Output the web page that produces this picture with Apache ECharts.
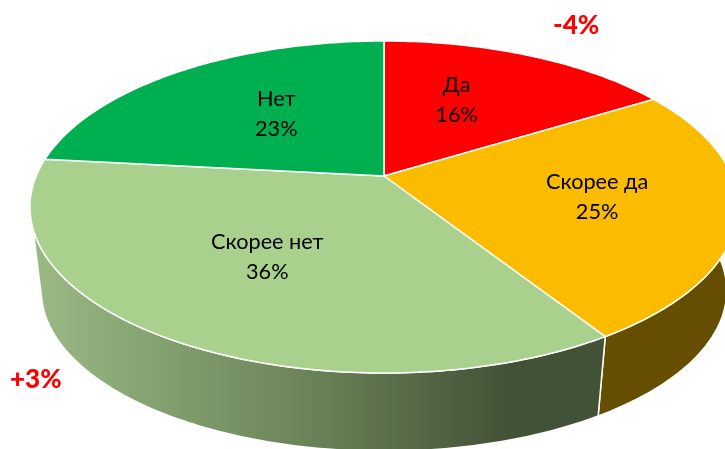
<!DOCTYPE html>
<html>
<head>
<meta charset="utf-8">
<style>html,body{margin:0;padding:0;background:#fff}#pie{width:725px;height:449px}</style>
<script src="https://cdn.jsdelivr.net/npm/echarts@6/dist/echarts.min.js"></script>
</head>
<body>
<div id="pie"></div>
<script>
// data
var names = ['Да', 'Скорее да', 'Скорее нет', 'Нет'];
var shares = [16.2, 24.8, 35.7, 23.3];
var changes = ['-4%', '+3%'];

// styles
var topColors = ['#FF0000', '#FBBC00', '#A9D08C', '#00B050'];
var sideGreen = new echarts.graphic.LinearGradient(32, 0, 600, 0, [
    {offset: 0, color: '#9ABA85'},
    {offset: 0.47, color: '#6C855A'},
    {offset: 0.84, color: '#425237'},
    {offset: 1, color: '#425237'}
], true);
var sideColors = ['#990000', '#654E00', sideGreen, '#006A30'];
// label nudges from the point at 60% of the radius
var labelNudge = [[-20, 0], [4.5, -1], [5, -9], [21, 4]];
var fontName = 'Lato, "Open Sans", sans-serif';

// perspective of the pie
var cx = 384, cy = 176, rx = 347.8, ry = 160.2, persp = 0.1867;
var depthX = 0.968, depthY = 84.6;
// part of the rim that can be seen, degrees clockwise from the top
var rimStart = 75, rimEndTop = 252, rimEndBottom = 256;

function project(deg, r, lower) {
    var a = deg * Math.PI / 180;
    var u = r * Math.sin(a), v = r * Math.cos(a);
    var w = 1 + persp * v;
    var s = lower ? depthX : 1;
    return [cx + s * rx * u / w, cy + (lower ? depthY : 0) - s * ry * v / w];
}

function arc(from, to, lower) {
    var pts = [];
    var n = Math.max(1, Math.ceil(Math.abs(to - from)));
    for (var i = 0; i <= n; i++) {
        pts.push(project(from + (to - from) * i / n, 1, lower));
    }
    return pts;
}

var total = shares.reduce(function (s, v) { return s + v; }, 0);

function renderSlice(params, api) {
    var idx = api.value(1);
    var before = 0;
    for (var i = 0; i < idx; i++) before += shares[i];
    var start = before / total * 360;
    var end = start + api.value(0) / total * 360;
    var children = [];

    // rim first, it stays under the tops
    var topEnd = Math.min(end, rimEndTop), bottomEnd = Math.min(end, rimEndBottom);
    var from = Math.max(start, rimStart);
    if (topEnd > from) {
        children.push({
            type: 'polygon',
            z2: 1,
            shape: {points: arc(from, topEnd, false).concat(arc(bottomEnd, from, true))},
            style: {fill: sideColors[idx], stroke: '#fff', lineWidth: 1.5}
        });
    }
    children.push({
        type: 'polygon',
        z2: 2,
        shape: {points: [project(0, 0, false)].concat(arc(start, end, false))},
        style: {fill: topColors[idx], stroke: '#fff', lineWidth: 1.5}
    });

    var mid = project((start + end) / 2, 0.6, false);
    children.push({
        type: 'text',
        z2: 3,
        style: {
            text: names[idx] + '\n' + Math.round(api.value(0)) + '%',
            x: mid[0] + labelNudge[idx][0],
            y: mid[1] + labelNudge[idx][1],
            align: 'center',
            verticalAlign: 'middle',
            fill: '#000',
            fontFamily: fontName,
            fontSize: 21.7,
            lineHeight: 30
        }
    });
    return {type: 'group', children: children};
}

var pie = echarts.init(document.getElementById('pie'));
var option = {
    backgroundColor: '#fff',
    animation: false,
    series: [
        {
            type: 'custom',
            coordinateSystem: 'none',
            clip: false,
            renderItem: renderSlice,
            data: shares.map(function (v, i) { return [v, i]; })
        }
    ],
    graphic: [
        {
            type: 'text', left: 553, top: 13, z: 10,
            style: {text: changes[0], fill: '#FF0000', fontFamily: fontName, fontSize: 26, fontWeight: 900}
        },
        {
            type: 'text', left: 10, top: 367, z: 10,
            style: {text: changes[1], fill: '#FF0000', fontFamily: fontName, fontSize: 26, fontWeight: 900}
        }
    ]
};
pie.setOption(option);
</script>
</body>
</html>
